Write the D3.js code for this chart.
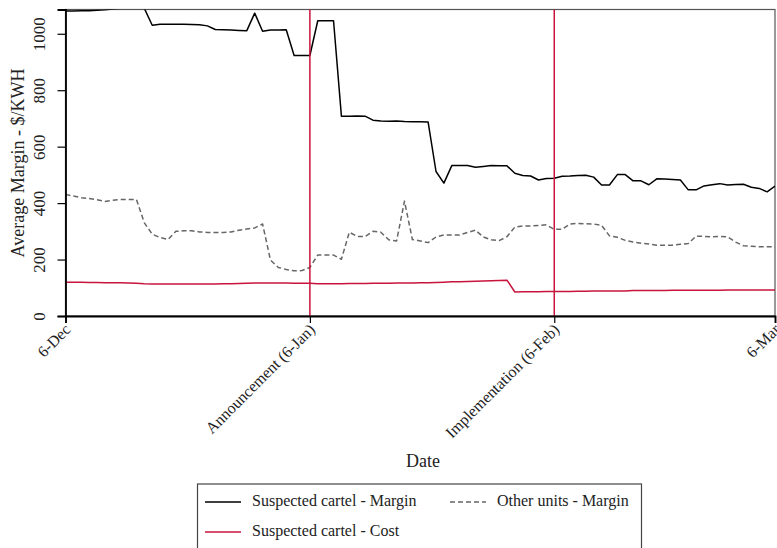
<!DOCTYPE html>
<html>
<head>
<meta charset="utf-8">
<script src="https://cdn.jsdelivr.net/npm/d3@7"></script>
<style>
  html, body { margin: 0; padding: 0; background: #fff; }
  svg { display: block; font-family: "Liberation Serif", "DejaVu Serif", serif; }
</style>
</head>
<body>
<svg id="chart" width="777" height="548"></svg>
<script>
// Daily series, one value per day starting 6 December
const startDate = new Date(2013, 11, 6);
const endDate = new Date(2014, 2, 6);

const cartelMargin = [
  1081, 1081, 1082, 1082, 1083, 1085, 1088, 1090, 1090, 1090,
  1090, 1030, 1034, 1034, 1034, 1034, 1033, 1032, 1028, 1015,
  1014, 1013, 1012, 1011, 1073, 1009, 1013, 1013, 1014, 923,
  923, 923, 1046, 1046, 1046, 708, 708, 709, 708, 694,
  691, 690, 691, 689, 688, 688, 687, 512, 471, 533,
  533, 533, 527, 530, 533, 532, 532, 506, 498, 496,
  482, 487, 488, 495, 496, 498, 499, 492, 464, 464,
  501, 501, 479, 479, 465, 486, 485, 484, 482, 447,
  447, 461, 465, 469, 464, 466, 467, 456, 452, 440,
  460
];

const otherMargin = [
  431, 425, 419, 416, 412, 406, 410, 413, 413, 413,
  330, 290, 278, 271, 300, 302, 302, 298, 296, 296,
  296, 298, 304, 308, 312, 326, 198, 172, 165, 160,
  161, 172, 216, 216, 216, 201, 297, 282, 281, 300,
  297, 270, 266, 407, 271, 266, 260, 280, 287, 287,
  287, 296, 304, 280, 270, 267, 281, 315, 319, 319,
  321, 323, 307, 307, 326, 328, 327, 326, 321, 284,
  279, 268, 262, 258, 255, 251, 251, 251, 254, 257,
  283, 282, 281, 282, 280, 262, 249, 247, 245, 245,
  245
];

const cartelCost = [
  120, 120, 120, 119, 119, 118, 118, 118, 117, 116,
  114, 113, 113, 113, 113, 113, 113, 113, 113, 113,
  114, 114, 115, 116, 117, 117, 117, 117, 117, 116,
  116, 116, 114, 114, 114, 114, 115, 115, 115, 116,
  116, 116, 117, 117, 117, 118, 118, 119, 120, 121,
  121, 122, 123, 124, 125, 126, 127, 85, 86, 86,
  86, 87, 87, 87, 87, 88, 88, 89, 89, 89,
  89, 89, 90, 90, 90, 90, 90, 91, 91, 91,
  91, 91, 91, 91, 92, 92, 92, 92, 92, 92,
  92
];

const eventDates = [new Date(2014, 0, 6), new Date(2014, 1, 6)];
const xTickDates = [startDate, eventDates[0], eventDates[1], endDate];
const xTickLabels = ["6-Dec", "Announcement (6-Jan)", "Implementation (6-Feb)", "6-Mar"];
const yTicks = [0, 200, 400, 600, 800, 1000];

const seriesNames = ["Suspected cartel - Margin", "Other units - Margin", "Suspected cartel - Cost"];
const seriesColors = ["#000000", "#666666", "#c8143c"];
const seriesDash = [null, "5,3", null];

const svg = d3.select("#chart");
const margin = { left: 65.5, top: 9.5 };
const plotW = 775 - margin.left;
const plotH = 316 - margin.top;

const x = d3.scaleTime().domain([startDate, endDate]).range([0, plotW]);
const y = d3.scaleLinear().domain([0, 1086]).range([plotH, 0]);

const g = svg.append("g").attr("transform", `translate(${margin.left},${margin.top})`);

g.append("clipPath").attr("id", "plotClip")
  .append("rect").attr("x", 0).attr("y", 0).attr("width", plotW).attr("height", plotH);

// outer frame (top and right sides)
g.append("rect")
  .attr("x", 0).attr("y", 0).attr("width", plotW).attr("height", plotH)
  .attr("fill", "none").attr("stroke", "#555").attr("stroke-width", 1.2);

const dayValue = (arr) => arr.map((v, i) => ({ date: d3.timeDay.offset(startDate, i), value: v }));
const allSeries = [cartelMargin, otherMargin, cartelCost].map(dayValue);

const line = d3.line().x(d => x(d.date)).y(d => y(d.value));

const plot = g.append("g").attr("clip-path", "url(#plotClip)");

// grey dashed first, then red, then black on top
[1, 2, 0].forEach(i => {
  plot.append("path")
    .datum(allSeries[i])
    .attr("fill", "none")
    .attr("stroke", seriesColors[i])
    .attr("stroke-width", 1.5)
    .attr("stroke-dasharray", seriesDash[i])
    .attr("stroke-linejoin", "round")
    .attr("d", line);
});

// event markers
g.selectAll(".event")
  .data(eventDates)
  .join("line")
  .attr("class", "event")
  .attr("x1", d => x(d)).attr("x2", d => x(d))
  .attr("y1", 0).attr("y2", plotH)
  .attr("stroke", "#c8143c").attr("stroke-width", 1.5);

// y axis
const yAxis = g.append("g")
  .call(d3.axisLeft(y).tickValues(yTicks).tickSize(8).tickPadding(6).tickFormat(d3.format("d")));
yAxis.select(".domain").attr("stroke", "#000").attr("stroke-width", 1.8);
yAxis.selectAll(".tick line").attr("stroke", "#000").attr("stroke-width", 1.2);
yAxis.selectAll(".tick text")
  .attr("font-family", "Liberation Serif, serif")
  .attr("font-size", 17)
  .attr("fill", "#222")
  .attr("text-anchor", "middle")
  .attr("x", null).attr("dy", null)
  .attr("transform", "translate(-24,0) rotate(-90)")
  .attr("y", 0)
  .attr("dominant-baseline", "middle");

// x axis
const xAxis = g.append("g")
  .attr("transform", `translate(0,${plotH})`)
  .call(d3.axisBottom(x).tickValues(xTickDates).tickSize(7).tickFormat((d, i) => xTickLabels[i]));
xAxis.select(".domain").attr("stroke", "#000").attr("stroke-width", 1.8);
xAxis.selectAll(".tick line").attr("stroke", "#000").attr("stroke-width", 1.2);
xAxis.selectAll(".tick text")
  .attr("font-family", "Liberation Serif, serif")
  .attr("font-size", 16)
  .attr("fill", "#222")
  .attr("text-anchor", "end")
  .attr("y", 0).attr("dy", null)
  .attr("transform", "translate(3,12) rotate(-45)")
  .attr("dominant-baseline", "middle");

// axis titles
svg.append("text")
  .attr("x", 423).attr("y", 467)
  .attr("text-anchor", "middle")
  .attr("font-size", 18)
  .attr("fill", "#222")
  .text("Date");

svg.append("text")
  .attr("transform", "translate(24,163) rotate(-90)")
  .attr("text-anchor", "middle")
  .attr("font-size", 18)
  .attr("fill", "#222")
  .text("Average Margin - $/KWH");

// legend
const legend = svg.append("g");
legend.append("rect")
  .attr("x", 197.5).attr("y", 484).attr("width", 444).attr("height", 80)
  .attr("fill", "#fff").attr("stroke", "#444").attr("stroke-width", 1.2);

const legendItems = [
  { i: 0, lx: 205, ly: 502 },
  { i: 1, lx: 450, ly: 502 },
  { i: 2, lx: 205, ly: 532 }
];
legendItems.forEach(item => {
  legend.append("line")
    .attr("x1", item.lx).attr("x2", item.lx + 36)
    .attr("y1", item.ly).attr("y2", item.ly)
    .attr("stroke", seriesColors[item.i])
    .attr("stroke-width", 1.5)
    .attr("stroke-dasharray", seriesDash[item.i]);
  legend.append("text")
    .attr("x", item.lx + 47).attr("y", item.ly)
    .attr("dominant-baseline", "middle")
    .attr("font-size", 16)
    .attr("fill", "#222")
    .text(seriesNames[item.i]);
});
</script>
</body>
</html>
